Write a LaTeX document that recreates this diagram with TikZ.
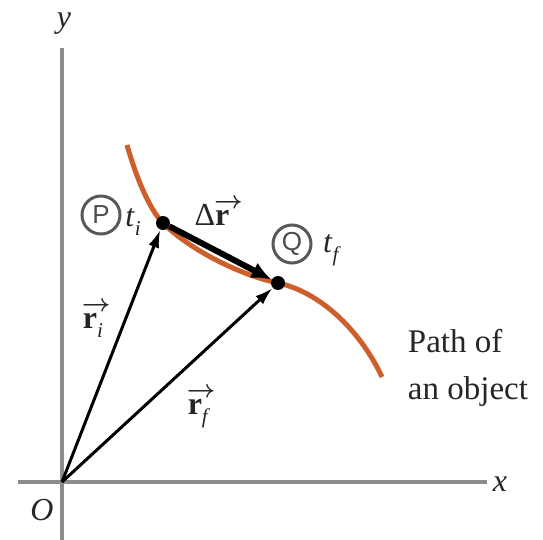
\documentclass[tikz,border=0pt]{standalone}
\usepackage{fontspec}
\setmainfont{Liberation Serif}
\newfontfamily\sansf{Liberation Sans}
\usetikzlibrary{arrows.meta}
\definecolor{pathcol}{RGB}{205,95,45}
\newcommand\mysub[1]{\raisebox{-9pt}{\fontsize{21}{21}\selectfont\textit{#1}}}
\newcommand\myvr{\makebox[0pt][l]{\kern-1pt\raisebox{17pt}{\fontsize{27}{27}\selectfont$\boldsymbol{\rightarrow}$}}\textbf{r}}
\usepackage{amsmath}
\begin{document}
\begin{tikzpicture}[x=1pt,y=-1pt,
 axis/.style={draw=black!45, line width=3.5pt},
 vecline/.style={draw=black, line width=3pt, -{Latex[length=18pt,width=11pt]}},
 dvec/.style={draw=black, line width=6pt, -{Latex[length=20pt,width=17pt]}},
 pathc/.style={draw=pathcol, line width=5pt},
 dot/.style={circle, fill=black, inner sep=0pt, minimum size=14pt},
 lab/.style={font=\fontsize{32}{40}\selectfont, text=black!85, inner sep=0pt},
 circ/.style={circle, draw=black!65, line width=3pt, minimum size=38pt, inner sep=0pt, font=\sansf\fontsize{26}{26}\selectfont, text=black!70}
]
\useasboundingbox (0,0) rectangle (543,540);
\fill[white] (0,0) rectangle (543,540);
% axes
\coordinate (O) at (62,482);
\coordinate (ytop) at (62,48);
\coordinate (ybot) at (62,540);
\coordinate (xl) at (18,482);
\coordinate (xr) at (487,482);
\draw[axis] (ybot) -- (ytop);
\draw[axis] (xl) -- (xr);
\node[lab] (ylab) at (64,24) {\textit{y}};
\node[lab] (xlab) at (500,484) {\textit{x}};
\node[lab] (Olab) at (42,510) {\textit{O}};
% path of object
\draw[pathc] (127,145) .. controls (137,180) and (150,210) .. (163,223)
  .. controls (190,250) and (240,275) .. (278,283)
  .. controls (320,292) and (360,330) .. (382,377);
% points
\node[dot] (P) at (163,223) {};
\node[dot] (Q) at (278,283) {};
% vectors
\draw[vecline] (O) -- (P);
\draw[vecline] (O) -- (Q);
\draw[dvec] (P) -- (Q);
% labels
\node[circ] (cP) at (101,215) {P};
\node[lab] (ti) at (133,222) {\textit{t}\mysub{i}};
\node[lab] (dr) at (212,212) {Δ\myvr};
\node[circ] (cQ) at (292,244) {Q};
\node[lab] (tf) at (332,250) {\textit{t}\mysub{f}};
\node[lab] (ri) at (93,320) {\myvr\mysub{i}};
\node[lab] (rf) at (199,408) {\myvr\mysub{f}};
\node[lab, align=left, font=\fontsize{33}{47}\selectfont] (pl) at (468,368) {Path of\\an object};
\end{tikzpicture}
\end{document}
